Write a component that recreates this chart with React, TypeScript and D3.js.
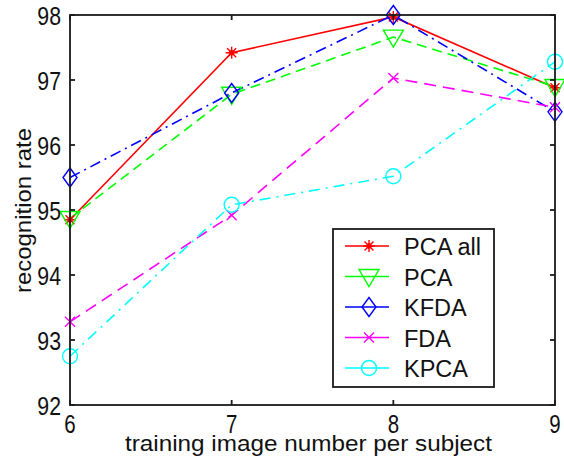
import { useEffect, useRef } from "react";
import * as d3 from "d3";

const trainingCounts = [6, 7, 8, 9];
const pcaAll = [94.85, 97.42, 97.97, 96.88];
const pca = [94.87, 96.78, 97.66, 96.9];
const kfda = [95.5, 96.8, 98.0, 96.51];
const fda = [93.28, 94.92, 97.03, 96.58];
const kpca = [92.75, 95.08, 95.52, 97.28];
const yTicks = [92, 93, 94, 95, 96, 97, 98];
const seriesNames = ["PCA all", "PCA", "KFDA", "FDA", "KPCA"];

const W = 564;
const H = 458;

export default function App() {
  const ref = useRef<SVGSVGElement>(null);

  useEffect(() => {
    if (!ref.current) return;
    const svg = d3.select(ref.current);
    svg.selectAll("*").remove();

    const margin = { top: 15, right: 9, bottom: 53, left: 70 };
    const plotW = W - margin.left - margin.right;
    const plotH = H - margin.top - margin.bottom;

    const x = d3.scaleLinear().domain([6, 9]).range([0, plotW]);
    const y = d3.scaleLinear().domain([92, 98]).range([plotH, 0]);

    const g = svg.append("g").attr("transform", `translate(${margin.left},${margin.top})`);

    const series = [
      { name: seriesNames[0], values: pcaAll, color: "#ff0000", dash: null, marker: "star" },
      { name: seriesNames[1], values: pca, color: "#00ff00", dash: "10,6", marker: "tri" },
      { name: seriesNames[2], values: kfda, color: "#0000ff", dash: "11,5,2,5", marker: "diamond" },
      { name: seriesNames[3], values: fda, color: "#ff00ff", dash: "12,7", marker: "x" },
      { name: seriesNames[4], values: kpca, color: "#00ffff", dash: "11,6,2,6", marker: "circle" },
    ];

    const drawMarker = (sel: any, kind: string, color: string) => {
      const m = sel.append("g").attr("fill", "none").attr("stroke", color).attr("stroke-width", 1.4);
      if (kind === "star") {
        m.append("path").attr("d", "M-6,0H6M0,-6V6M-4.5,-4.5L4.5,4.5M-4.5,4.5L4.5,-4.5");
        m.append("circle").attr("r", 2).attr("fill", color);
      } else if (kind === "tri") {
        m.append("path").attr("d", "M-10,-7L10,-7L0,10Z");
      } else if (kind === "diamond") {
        m.append("path").attr("d", "M0,-9.5L7,0L0,9.5L-7,0Z");
      } else if (kind === "x") {
        m.append("path").attr("d", "M-5,-5L5,5M-5,5L5,-5");
      } else if (kind === "circle") {
        m.append("circle").attr("r", 7.5);
      }
    };

    // lines
    series.forEach((s) => {
      const line = d3
        .line<number>()
        .x((_, i) => x(trainingCounts[i]))
        .y((d) => y(d));
      g.append("path")
        .datum(s.values)
        .attr("fill", "none")
        .attr("stroke", s.color)
        .attr("stroke-width", 1.6)
        .attr("stroke-dasharray", s.dash)
        .attr("d", line);
    });

    // markers
    series.forEach((s) => {
      s.values.forEach((v, i) => {
        const mg = g.append("g").attr("transform", `translate(${x(trainingCounts[i])},${y(v)})`);
        drawMarker(mg, s.marker, s.color);
      });
    });

    // axes box with inward ticks
    const axisColor = "#1a1a1a";
    g.append("rect")
      .attr("width", plotW)
      .attr("height", plotH)
      .attr("fill", "none")
      .attr("stroke", axisColor)
      .attr("stroke-width", 1.8);

    const tickLen = 5;
    trainingCounts.forEach((t) => {
      g.append("line")
        .attr("x1", x(t)).attr("x2", x(t))
        .attr("y1", plotH).attr("y2", plotH - tickLen)
        .attr("stroke", axisColor).attr("stroke-width", 1.8);
      g.append("line")
        .attr("x1", x(t)).attr("x2", x(t))
        .attr("y1", 0).attr("y2", tickLen)
        .attr("stroke", axisColor).attr("stroke-width", 1.8);
      g.append("text")
        .attr("transform", `translate(${x(t)},${plotH + 28}) scale(0.82,1)`)
        .attr("text-anchor", "middle")
        .attr("font-family", "Liberation Sans, Arial, sans-serif")
        .attr("font-size", 25)
        .attr("fill", "#111")
        .text(t);
    });

    yTicks.forEach((t) => {
      g.append("line")
        .attr("x1", 0).attr("x2", tickLen)
        .attr("y1", y(t)).attr("y2", y(t))
        .attr("stroke", axisColor).attr("stroke-width", 1.8);
      g.append("line")
        .attr("x1", plotW).attr("x2", plotW - tickLen)
        .attr("y1", y(t)).attr("y2", y(t))
        .attr("stroke", axisColor).attr("stroke-width", 1.8);
      g.append("text")
        .attr("transform", `translate(-9,${y(t) + 9.5}) scale(0.82,1)`)
        .attr("text-anchor", "end")
        .attr("font-family", "Liberation Sans, Arial, sans-serif")
        .attr("font-size", 26)
        .attr("fill", "#111")
        .text(t);
    });

    // axis labels
    svg.append("text")
      .attr("x", 125)
      .attr("y", 451)
      .attr("textLength", 367)
      .attr("lengthAdjust", "spacingAndGlyphs")
      .attr("font-family", "Liberation Sans, Arial, sans-serif")
      .attr("font-size", 22)
      .attr("fill", "#111")
      .text("training image number per subject");

    svg.append("text")
      .attr("transform", "translate(31,293) rotate(-90)")
      .attr("textLength", 165)
      .attr("lengthAdjust", "spacingAndGlyphs")
      .attr("font-family", "Liberation Sans, Arial, sans-serif")
      .attr("font-size", 22)
      .attr("fill", "#111")
      .text("recognition rate");

    // Legend
    const legend = svg.append("g");
    legend.append("rect")
      .attr("x", 333)
      .attr("y", 229)
      .attr("width", 161)
      .attr("height", 158)
      .attr("fill", "#fff")
      .attr("stroke", axisColor)
      .attr("stroke-width", 1.8);

    series.forEach((s, i) => {
      const ly = 246 + i * 30.5;
      legend.append("line")
        .attr("x1", 345).attr("x2", 389)
        .attr("y1", ly).attr("y2", ly)
        .attr("stroke", s.color).attr("stroke-width", 1.6);
      const mg = legend.append("g").attr("transform", `translate(369,${ly})`);
      drawMarker(mg, s.marker, s.color);
      legend.append("text")
        .attr("x", 404)
        .attr("y", ly + 9)
        .attr("font-family", "Liberation Sans, Arial, sans-serif")
        .attr("font-size", 23.5)
        .attr("fill", "#111")
        .text(s.name);
    });
  }, []);

  return (
    <svg
      ref={ref}
      width={W}
      height={H}
      style={{ position: "absolute", left: 0, top: 0, background: "#fff" }}
    />
  );
}
